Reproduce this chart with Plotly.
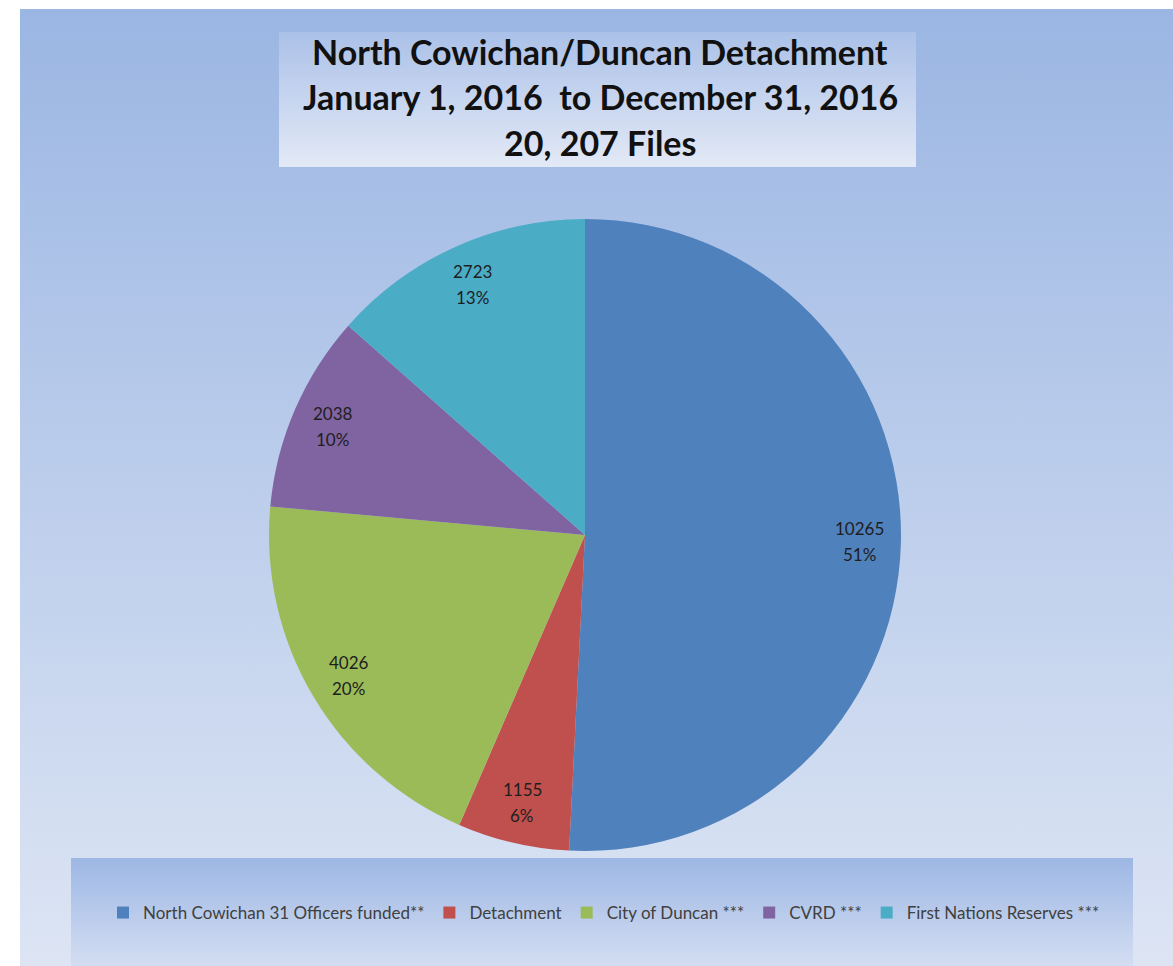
import base64, math
import plotly.graph_objects as go

# ---- data ----
categories = ["North Cowichan 31 Officers funded**", "Detachment", "City of Duncan ***",
              "CVRD ***", "First Nations Reserves ***"]
values = [10265, 1155, 4026, 2038, 2723]
colors = ["#4f81bd", "#c0504d", "#9bbb59", "#8064a2", "#4bacc6"]
title_lines = ["North Cowichan/Duncan Detachment",
               "January 1, 2016  to December 31, 2016",
               "20, 207 Files"]

W, H = 1173, 966
FONT = "Lato"


def grad(top, bottom):
    svg = ('<svg xmlns="http://www.w3.org/2000/svg" viewBox="0 0 100 100" preserveAspectRatio="none">'
           '<defs><linearGradient id="g" x1="0" y1="0" x2="0" y2="1">'
           f'<stop offset="0" stop-color="{top}"/><stop offset="1" stop-color="{bottom}"/>'
           '</linearGradient></defs><rect width="100" height="100" fill="url(#g)"/></svg>')
    return "data:image/svg+xml;base64," + base64.b64encode(svg.encode()).decode()


def px_img(src, x0, y0, x1, y1):
    return dict(source=src, xref="paper", yref="paper", x=x0 / W, y=1 - y0 / H,
                sizex=(x1 - x0) / W, sizey=(y1 - y0) / H, xanchor="left", yanchor="top",
                sizing="stretch", layer="below")


# pie geometry (pixels)
cx, cy, R = 585, 535, 316
dom_x = [(cx - R) / W, (cx + R) / W]
dom_y = [(H - cy - R) / H, (H - cy + R) / H]

fig = go.Figure(go.Pie(
    labels=categories, values=values, sort=False, direction="clockwise", rotation=0,
    marker=dict(colors=colors, line=dict(width=0)), textinfo="none",
    domain=dict(x=dom_x, y=dom_y), showlegend=True, hoverinfo="label+value+percent",
))

annotations = []
# title lines
for i, line in enumerate(title_lines):
    annotations.append(dict(text=f"<b>{line}</b>", xref="paper", yref="paper",
                            x=600 / W, y=1 - (51 + i * 45.5) / H, xanchor="center", yanchor="middle",
                            showarrow=False, font=dict(family=FONT, size=34, color="#111111")))

# slice labels, computed from the data
total = sum(values)
cum = 0
for v in values:
    mid = (cum + v / 2) / total
    cum += v
    ang = 2 * math.pi * mid
    r = 0.87 * R
    lx = (cx + r * math.sin(ang)) / W
    ly = (H - cy + r * math.cos(ang)) / H
    pct = f"{round(100 * v / total)}%"
    for txt, sh in ((f"{v}", 13), (pct, -13)):
        annotations.append(dict(text=txt, xref="paper", yref="paper", x=lx, y=ly, yshift=sh,
                                xanchor="center", yanchor="middle", showarrow=False,
                                font=dict(family=FONT, size=17, color="#1e1e1e")))

images = [
    px_img(grad("#9bb6e3", "#dde5f4"), 20, 9, 1173, 966),
    px_img(grad("#abc1e8", "#e3e9f6"), 279, 32, 916, 167),
    px_img(grad("#9db7e4", "#dfe6f5"), 71, 858, 1133, 990),
]

fig.update_layout(
    width=W, height=H, margin=dict(l=0, r=0, t=0, b=0),
    paper_bgcolor="white", plot_bgcolor="white",
    images=images, annotations=annotations,
    legend=dict(orientation="h", x=604 / W, y=1 - 913 / H, xanchor="center", yanchor="middle",
                bgcolor="rgba(0,0,0,0)", font=dict(family=FONT, size=17, color="#404040"),
                itemwidth=30, tracegroupgap=0),
)

fig.write_html("out.html")
